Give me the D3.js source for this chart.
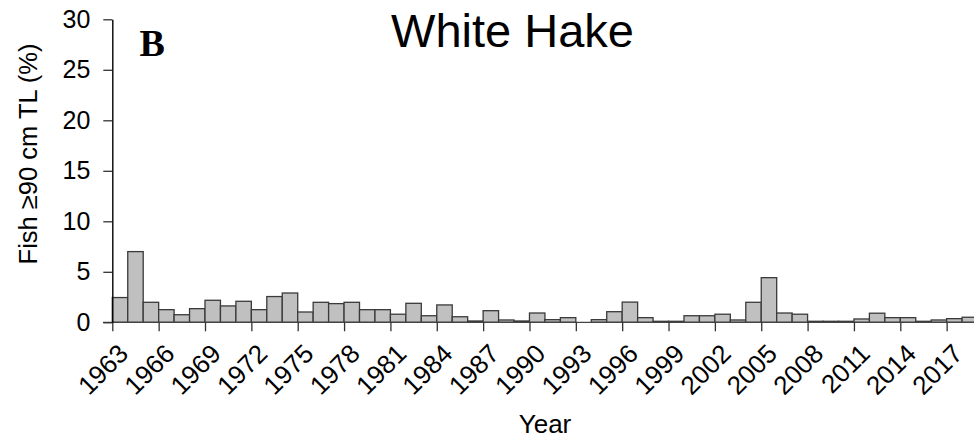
<!DOCTYPE html>
<html>
<head>
<meta charset="utf-8">
<script src="https://cdn.jsdelivr.net/npm/d3@7"></script>
<style>
  html, body { margin: 0; padding: 0; background: #fff; }
  svg { display: block; }
  text { font-family: "Liberation Sans", Arial, sans-serif; fill: #000; }
</style>
</head>
<body>
<svg id="chart" width="974" height="441"></svg>
<script>
// Share of white hake ≥90 cm total length, by survey year
const years = d3.range(1963, 2019);
const values = [
  2.45, 7.0, 1.98, 1.25, 0.75, 1.35, 2.18, 1.62, 2.08, 1.25,
  2.55, 2.9, 1.02, 1.98, 1.85, 1.98, 1.25, 1.25, 0.8, 1.88,
  0.65, 1.72, 0.55, 0.13, 1.15, 0.23, 0.13, 0.92, 0.26, 0.46,
  0.0, 0.26, 1.05, 2.0, 0.46, 0.1, 0.1, 0.65, 0.65, 0.8,
  0.23, 1.98, 4.42, 0.92, 0.8, 0.1, 0.1, 0.1, 0.33, 0.9,
  0.46, 0.46, 0.1, 0.23, 0.36, 0.5
];
const yTicks = [0, 5, 10, 15, 20, 25, 30];
const xTickYears = d3.range(1963, 2018, 3);

const title = "White Hake";
const panelLabel = "B";
const yTitle = "Fish ≥90 cm TL (%)";
const xTitle = "Year";

const svg = d3.select("#chart");

const x = d3.scaleLinear().domain([1963, 2020]).range([112.3, 993]);
const y = d3.scaleLinear().domain([0, 30]).range([322.3, 19.3]);

// bars, one per year, drawn from the left edge of the year
svg.append("g")
  .selectAll("rect")
  .data(years.map((yr, i) => ({ yr, v: values[i] })).filter(d => d.v > 0))
  .join("rect")
  .attr("x", d => x(d.yr))
  .attr("width", d => x(d.yr + 1) - x(d.yr))
  .attr("y", d => y(d.v))
  .attr("height", d => y(0) - y(d.v))
  .attr("fill", "#c0c0c0")
  .attr("stroke", "#3a3a3a")
  .attr("stroke-width", 1.3);

// x axis: baseline, ticks every third year, slanted labels
svg.append("line")
  .attr("x1", 103).attr("x2", 974)
  .attr("y1", y(0)).attr("y2", y(0))
  .attr("stroke", "#444").attr("stroke-width", 1.3);

const xAxis = svg.append("g")
  .attr("transform", `translate(0,${y(0)})`)
  .call(d3.axisBottom(x).tickValues(xTickYears).tickSize(9).tickSizeOuter(0).tickFormat(""));
xAxis.select(".domain").remove();
xAxis.selectAll(".tick line").attr("stroke", "#333").attr("stroke-width", 1.3);
xAxis.selectAll(".tick text").remove();

xAxis.selectAll(".tick")
  .append("text")
  .attr("text-anchor", "end")
  .attr("font-size", 26)
  .attr("transform", "translate(17,33) rotate(-45)")
  .text(d => d);

// y axis
const yAxis = svg.append("g")
  .attr("transform", `translate(${x(1963)},0)`)
  .call(d3.axisLeft(y).tickValues(yTicks).tickSize(9).tickSizeOuter(0).tickPadding(13));
yAxis.attr("font-size", 25).attr("font-family", null);
yAxis.select(".domain").attr("stroke", "#000").attr("stroke-width", 1.4);
yAxis.selectAll(".tick line").attr("stroke", "#333").attr("stroke-width", 1.3);
yAxis.selectAll(".tick text").attr("fill", "#000");

// titles
svg.append("text")
  .attr("x", 512.5).attr("y", 46.5)
  .attr("text-anchor", "middle")
  .attr("font-size", 47)
  .text(title);

svg.append("text")
  .attr("x", 139.5).attr("y", 55.7)
  .style("font-family", "'Liberation Serif', 'Times New Roman', serif")
  .attr("font-weight", "bold")
  .attr("font-size", 38)
  .text(panelLabel);

svg.append("text")
  .attr("transform", "translate(37,154) rotate(-90)")
  .attr("text-anchor", "middle")
  .attr("font-size", 25.5)
  .text(yTitle);

svg.append("text")
  .attr("x", 545).attr("y", 432.5)
  .attr("text-anchor", "middle")
  .attr("font-size", 26)
  .text(xTitle);
</script>
</body>
</html>
